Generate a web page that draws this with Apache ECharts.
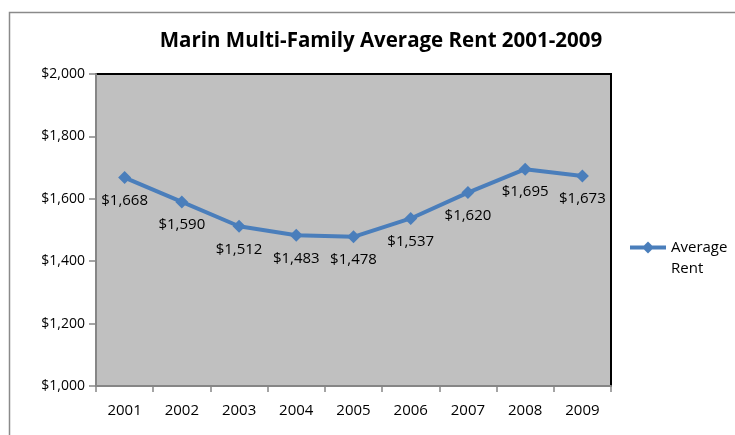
<!DOCTYPE html>
<html>
<head>
<meta charset="utf-8">
<script src="https://cdn.jsdelivr.net/npm/echarts@6/dist/echarts.min.js"></script>
<style>html,body{margin:0;padding:0;background:#fff;}#c{width:735px;height:435px;}</style>
</head>
<body>
<div id="c"></div>
<script>
const categories = ['2001','2002','2003','2004','2005','2006','2007','2008','2009'];
const averageRent = [1668, 1590, 1512, 1483, 1478, 1537, 1620, 1695, 1673];
const yTicks = [1000, 1200, 1400, 1600, 1800, 2000];

const fontFam = '"Open Sans", "Noto Sans", sans-serif';
const fmtMoney = v => '$' + v.toLocaleString('en-US');

const chart = echarts.init(document.getElementById('c'), null, {renderer: 'canvas'});
chart.setOption({
  animation: false,
  backgroundColor: '#ffffff',
  title: {
    text: 'Marin Multi-Family Average Rent 2001-2009',
    left: 376, top: 26, textAlign: 'center',
    textStyle: {fontFamily: fontFam, fontSize: 20.5, fontWeight: 'bold', color: '#000'}
  },
  graphic: [{
    type: 'rect', left: 7, top: 10, z: -1,
    shape: {width: 800, height: 500},
    style: {fill: 'none', stroke: '#8a8a8a', lineWidth: 1.5}
  }],
  legend: {
    orient: 'vertical', left: 625, top: 211,
    itemWidth: 36, itemHeight: 12,
    formatter: () => '\nAverage\nRent',
    textStyle: {fontFamily: fontFam, fontSize: 15, color: '#000', lineHeight: 21},
    data: [{name: 'Average Rent', icon: 'path://M0,4 L14,4 L18,0 L22,4 L36,4 L36,8 L22,8 L18,12 L14,8 L0,8 Z'}]
  },
  grid: {
    left: 96, right: 124, top: 74, bottom: 49,
    show: true, backgroundColor: '#c0c0c0', borderColor: '#000', borderWidth: 2
  },
  xAxis: {
    type: 'category', data: categories, boundaryGap: true,
    axisLine: {lineStyle: {color: '#868686', width: 2}},
    axisTick: {show: true, alignWithLabel: false, length: 6, lineStyle: {color: '#868686', width: 1.5}},
    axisLabel: {fontFamily: fontFam, fontSize: 15, color: '#000', margin: 17}
  },
  yAxis: {
    type: 'value', min: yTicks[0], max: yTicks[yTicks.length - 1], interval: 200,
    axisLine: {show: true, lineStyle: {color: '#868686', width: 2}},
    axisTick: {show: true, length: 7, lineStyle: {color: '#868686', width: 1.5}},
    splitLine: {show: false},
    axisLabel: {fontFamily: fontFam, fontSize: 14, color: '#000', margin: 11, formatter: fmtMoney}
  },
  series: [{
    name: 'Average Rent', type: 'line', data: averageRent,
    symbol: 'diamond', symbolSize: 13,
    lineStyle: {color: '#4a7ebb', width: 4},
    itemStyle: {color: '#4a7ebb'},
    label: {
      show: true, position: 'bottom', distance: 9,
      fontFamily: fontFam, fontSize: 15, color: '#000',
      formatter: p => fmtMoney(p.value)
    }
  }]
});
</script>
</body>
</html>
